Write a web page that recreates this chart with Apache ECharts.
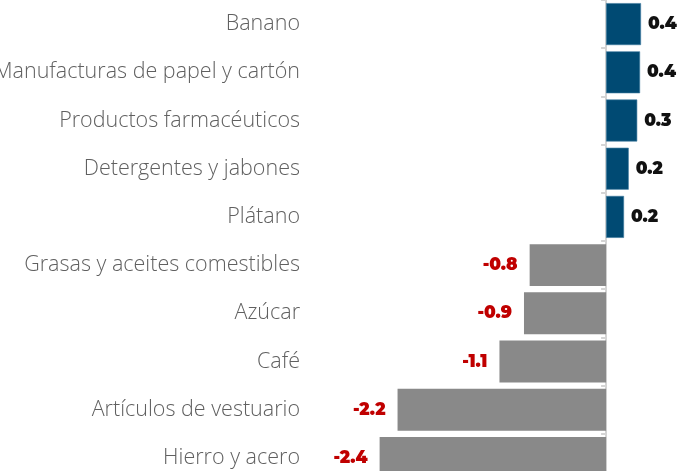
<!DOCTYPE html>
<html><head><meta charset="utf-8">
<script src="https://cdn.jsdelivr.net/npm/echarts@6/dist/echarts.min.js"></script>
<style>html,body{margin:0;padding:0;background:#fff}#c{width:693px;height:471px}</style>
</head><body><div id="c"></div>
<script>
const categories = ["Banano","Manufacturas de papel y cartón","Productos farmacéuticos","Detergentes y jabones","Plátano","Grasas y aceites comestibles","Azúcar","Café","Artículos de vestuario","Hierro y acero"];
const values = [0.37, 0.36, 0.33, 0.24, 0.19, -0.81, -0.87, -1.13, -2.21, -2.40];

const chart = echarts.init(document.getElementById('c'));
chart.setOption({
  animation: false,
  grid: {left: 323, width: 368, top: 0, height: 482, outerBoundsMode: 'none', containLabel: false},
  xAxis: {type: 'value', min: -3, max: 0.9, show: false},
  yAxis: {
    type: 'category', data: categories, inverse: true,
    axisLine: {onZero: true, lineStyle: {color: '#d4d4d4', width: 2}},
    axisTick: {show: true, length: 5, lineStyle: {color: '#d4d4d4', width: 2}},
    axisLabel: {margin: 23, fontFamily: '"Open Sans"', fontWeight: 300, fontSize: 21.5, color: '#606060'}
  },
  series: [{
    type: 'bar', barCategoryGap: '13%',
    data: values.map(v => ({
      value: v,
      itemStyle: v >= 0 ? {color: '#004a73', borderColor: '#3d7aa0', borderWidth: 0.6} : {color: '#898989'},
      label: v >= 0 ? {position: 'right', distance: 7, color: '#111'} : {position: 'left', distance: 12, color: '#c00000'}
    })),
    label: {show: true, fontFamily: 'Montserrat, "DejaVu Sans", sans-serif', fontWeight: 900, fontSize: 17,
      formatter: p => p.value.toFixed(1)}
  }]
});
</script></body></html>
